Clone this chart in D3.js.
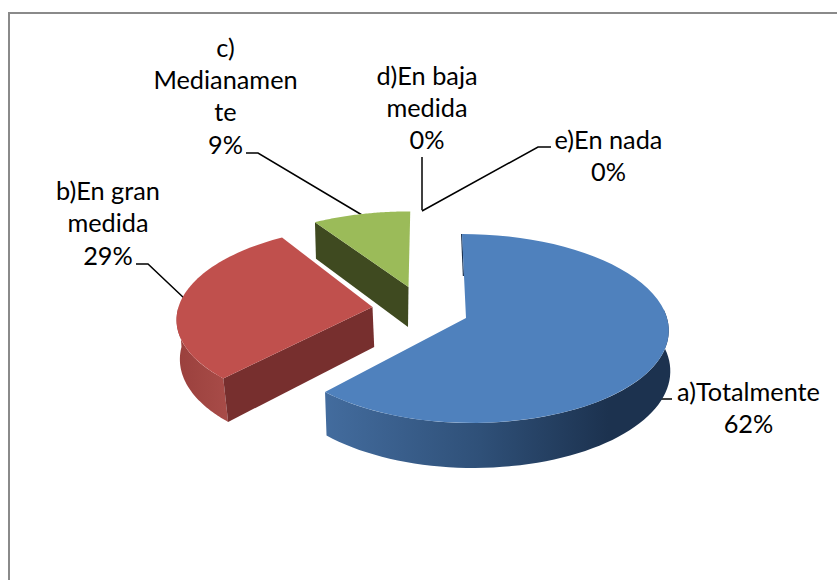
<!DOCTYPE html>
<html><head><meta charset="utf-8">
<script src="https://cdnjs.cloudflare.com/ajax/libs/d3/7.8.5/d3.min.js"></script>
<style>html,body{margin:0;padding:0;background:#fff}svg{display:block}text{font-family:Lato,sans-serif;font-size:25.3px;fill:#000;text-anchor:middle}</style>
</head><body><svg id="c" width="837" height="580"></svg>
<script>
const categories=["a)Totalmente","b)En gran medida","c) Medianamente","d)En baja medida","e)En nada"];
const values=[62,29,9,0,0];
const labelLines=[["a)Totalmente","62%"],["b)En gran","medida","29%"],["c)","Medianamen","te","9%"],["d)En baja","medida","0%"],["e)En nada","0%"]];
const labelCentres=[[748.5,400.5],[108,200],[225.5,56.5],[427,84.5],[608.5,149]];
const topColors=["#4f81bd","#c0504d","#9bbb59"];
const apexes=[[466,318],[372.5,307],[408.5,287]];
const yRadii=[93.3,90,84];
const leaders=[[[657,392],[660,399],[672,399]],[[136,264],[148,264],[185,299]],[[246,153],[258,153],[362,215]],[[422,157],[422,210]],[[551,147],[538,147],[422,211]]];

const svg=d3.select("#c");
const RR=201,RL=194,k=0.111,vx=426,D=40;
const pie=d3.pie().sort(null).value(d=>d);
const arcs=pie(values);
function proj(i,t,down){
  const u=Math.sin(t),v=-Math.cos(t),w=1-k*v;
  const [ax,ay]=apexes[i];
  const R=u<0?RL:RR;
  const shift=down?[1.5,3,1][i]+(i==1?2.5*v:0):0;
  return [vx+(ax-vx+R*u)/w+shift, ay+yRadii[i]*v/w+(down?D/w:0)];
}
function apex(i,down){const [ax,ay]=apexes[i];return [ax+(down?[1,1.7,-0.5][i]:0),ay+(down?D:0)];}
const line=d3.line();
function rim(i,a,b,down,n=60){return d3.range(n+1).map(j=>proj(i,a+(b-a)*j/n,down));}

const defs=svg.append("defs");
function grad(id,stops){const g=defs.append("linearGradient").attr("id",id);stops.forEach(([o,c])=>g.append("stop").attr("offset",o).attr("stop-color",c));}
grad("gb",[[0,"#436c9e"],[0.45,"#2f5078"],[0.82,"#1c324f"],[1,"#1c324f"]]);
grad("gr",[[0,"#9a403d"],[1,"#a84c48"]]);

svg.append("rect").attr("x",9).attr("y",13).attr("width",840).attr("height",580).attr("fill","#fff").attr("stroke","#8a8a8a").attr("stroke-width",2);

svg.append("g").selectAll("path").data(leaders).join("path").attr("d",d=>line(d)).attr("fill","none").attr("stroke","#000").attr("stroke-width",1.5);

const g=svg.append("g");
function slice(i,walls){
  const a=arcs[i];
  walls(a);
  g.append("path").attr("d",line([apex(i,false),...rim(i,a.startAngle,a.endAngle,false)])+"Z").attr("fill",topColors[i]);
}
slice(2,a=>{
  const r=proj(2,a.startAngle,false),rd=proj(2,a.startAngle,true);
  g.append("path").attr("d",line([apex(2,false),r,rd,apex(2,true)])+"Z").attr("fill","#3f4a20");
});
slice(1,a=>{
  const mid=Math.PI*1.5;
  g.append("path").attr("d",line([...rim(1,a.startAngle,mid,false),...rim(1,a.startAngle,mid,true).reverse()])+"Z").attr("fill","url(#gr)");
  const r=proj(1,a.startAngle,false),rd=proj(1,a.startAngle,true);
  g.append("path").attr("d",line([apex(1,false),r,rd,apex(1,true)])+"Z").attr("fill","#772f2e");
});
slice(0,a=>{
  const s=Math.PI*0.47;
  g.append("path").attr("d",line([...rim(0,s,a.endAngle,false),...rim(0,s,a.endAngle,true).reverse()])+"Z").attr("fill","url(#gb)");
  const r=proj(0,0,false),ap=apex(0,false);
  g.append("path").attr("d",line([[r[0]-0.4,r[1]],[(r[0]+ap[0])/2-0.6,(r[1]+ap[1])/2]])).attr("stroke","#1c324f").attr("stroke-width",1.2).attr("fill","none");
});

const lh=32.4;
labelLines.forEach((ls,i)=>{
  const t=svg.append("text");
  ls.forEach((s,j)=>t.append("tspan").attr("x",labelCentres[i][0]).attr("y",labelCentres[i][1]+j*lh).text(s));
});
</script></body></html>
